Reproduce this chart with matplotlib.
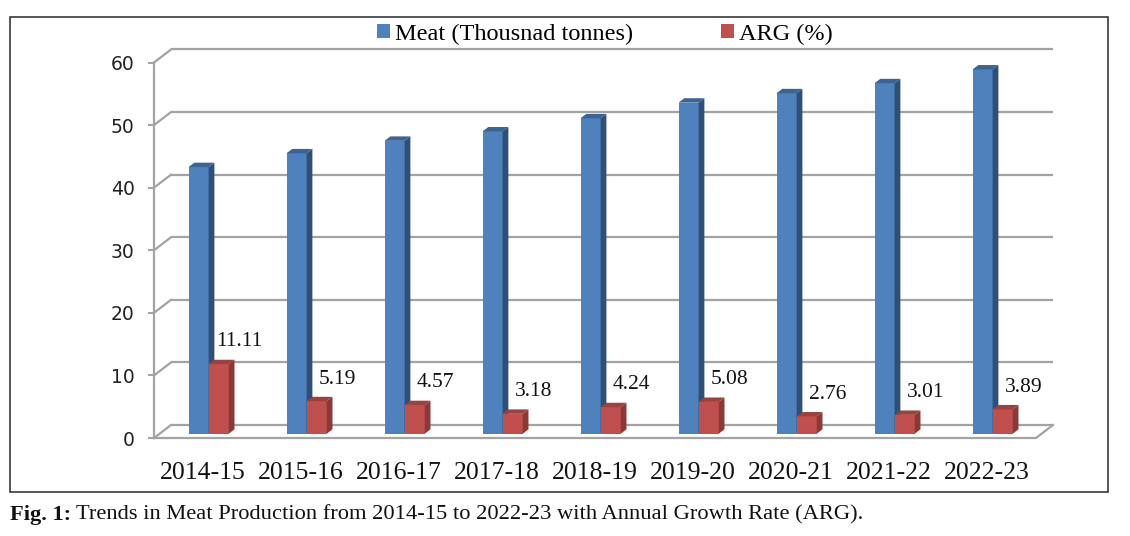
import numpy as np
import matplotlib.pyplot as plt
from matplotlib.patches import Polygon, Rectangle, Patch

years = ['2014-15', '2015-16', '2016-17', '2017-18', '2018-19',
         '2019-20', '2020-21', '2021-22', '2022-23']
meat = [42.6, 44.8, 46.8, 48.3, 50.4, 52.9, 54.4, 56.0, 58.2]
arg = [11.11, 5.19, 4.57, 3.18, 4.24, 5.08, 2.76, 3.01, 3.89]
yticks = [0, 10, 20, 30, 40, 50, 60]

blue = ('#4F81BD', '#304F78', '#3A6396')   # front, side, top
red = ('#C0504D', '#8C3836', '#9E403D')

W, H = 1130, 536
fig = plt.figure(figsize=(W / 100, H / 100), dpi=100)
ax = fig.add_axes([154 / W, (H - 438) / H, 882 / W, (438 - 62.5) / H])
ax.set_xlim(-0.5, len(years) - 0.5)
ax.set_ylim(0, 60)

# depth of the fake 3d box, in data units
DX = 17 / 98
DY = 13 / 6.258
t0, t1 = 0.33, 0.67
bw = 0.205
grid_c = '#a3a3a3'

x_lo, x_hi = -0.5, len(years) - 0.5
for v in yticks:
    ax.plot([x_lo + DX, x_hi + DX], [v + DY, v + DY], color=grid_c, lw=1.6,
            clip_on=False, zorder=1, solid_capstyle='butt')
    ax.plot([x_lo, x_lo + DX], [v, v + DY], color=grid_c, lw=1.6,
            clip_on=False, zorder=1)
# floor front and right edge
ax.plot([x_lo, x_hi, x_hi + DX], [0, 0, DY], color=grid_c, lw=1.6,
        clip_on=False, zorder=1)


def bar3d(xc, h, cols, z):
    x0 = xc - bw / 2 + t0 * DX
    x1 = xc + bw / 2 + t0 * DX
    b0 = t0 * DY
    sx = (t1 - t0) * DX
    sy = (t1 - t0) * DY
    ax.add_patch(Rectangle((x0, b0), x1 - x0, h, facecolor=cols[0],
                           edgecolor='none', zorder=z, clip_on=False))
    ax.add_patch(Polygon([(x1, b0), (x1 + sx, b0 + sy), (x1 + sx, b0 + sy + h),
                          (x1, b0 + h)], closed=True, facecolor=cols[1],
                         edgecolor='none', zorder=z, clip_on=False))
    ax.add_patch(Polygon([(x0, b0 + h), (x1, b0 + h), (x1 + sx, b0 + sy + h),
                          (x0 + sx, b0 + sy + h)], closed=True, facecolor=cols[2],
                         edgecolor='none', zorder=z, clip_on=False))
    return (x0 + x1) / 2, b0 + h


for i in range(len(years)):
    bar3d(i - bw / 2, meat[i], blue, 3 + 2 * i)
    cx, top = bar3d(i + bw / 2, arg[i], red, 4 + 2 * i)
    ax.annotate('%.2f' % arg[i], (cx, top), xytext=(15, 16),
                textcoords='offset points', ha='center', va='center',
                fontsize=15.5, family='Liberation Serif', color='#111111',
                zorder=30)

for s in ['top', 'right', 'bottom']:
    ax.spines[s].set_visible(False)
ax.spines['left'].set_color(grid_c)
ax.spines['left'].set_linewidth(1.6)
ax.set_yticks(yticks)
ax.tick_params(axis='y', length=4, width=1.5, color=grid_c, pad=10,
               labelsize=13.5, labelcolor='#222222')
ax.set_xticks(range(len(years)))
ax.set_xticklabels(years, family='Liberation Serif', fontsize=18.5, color='#111111')
ax.tick_params(axis='x', length=0, pad=17)

handles = [Patch(facecolor=blue[0], label='Meat (Thousnad tonnes)'),
           Patch(facecolor=red[0], label='ARG (%)')]
fig.legend(handles=handles, loc='center', bbox_to_anchor=(605 / W, 1 - 34 / H),
           ncol=2, frameon=False, handlelength=0.55, handleheight=0.55,
           handletextpad=0.2, columnspacing=3.6,
           prop={'family': 'Liberation Serif', 'size': 17.5})

# outer frame
fig.patches.append(Rectangle((10 / W, (H - 492) / H), 1098 / W, 475 / H,
                             transform=fig.transFigure, fill=False,
                             edgecolor='#3a3a3a', lw=1.2))

# caption
t1_ = fig.text(10 / W, 1 - 515 / H, 'Fig. 1:', fontsize=16.2, fontweight='bold',
               family='Liberation Serif', va='center', color='#111111')
fig.canvas.draw()
bb = t1_.get_window_extent()
fig.text((bb.x1 + 5) / W, 1 - 515 / H,
         'Trends in Meat Production from 2014-15 to 2022-23 with Annual Growth Rate (ARG).',
         fontsize=16.2, family='Liberation Serif', va='center', color='#111111')

fig.savefig('out.png', dpi=100)
